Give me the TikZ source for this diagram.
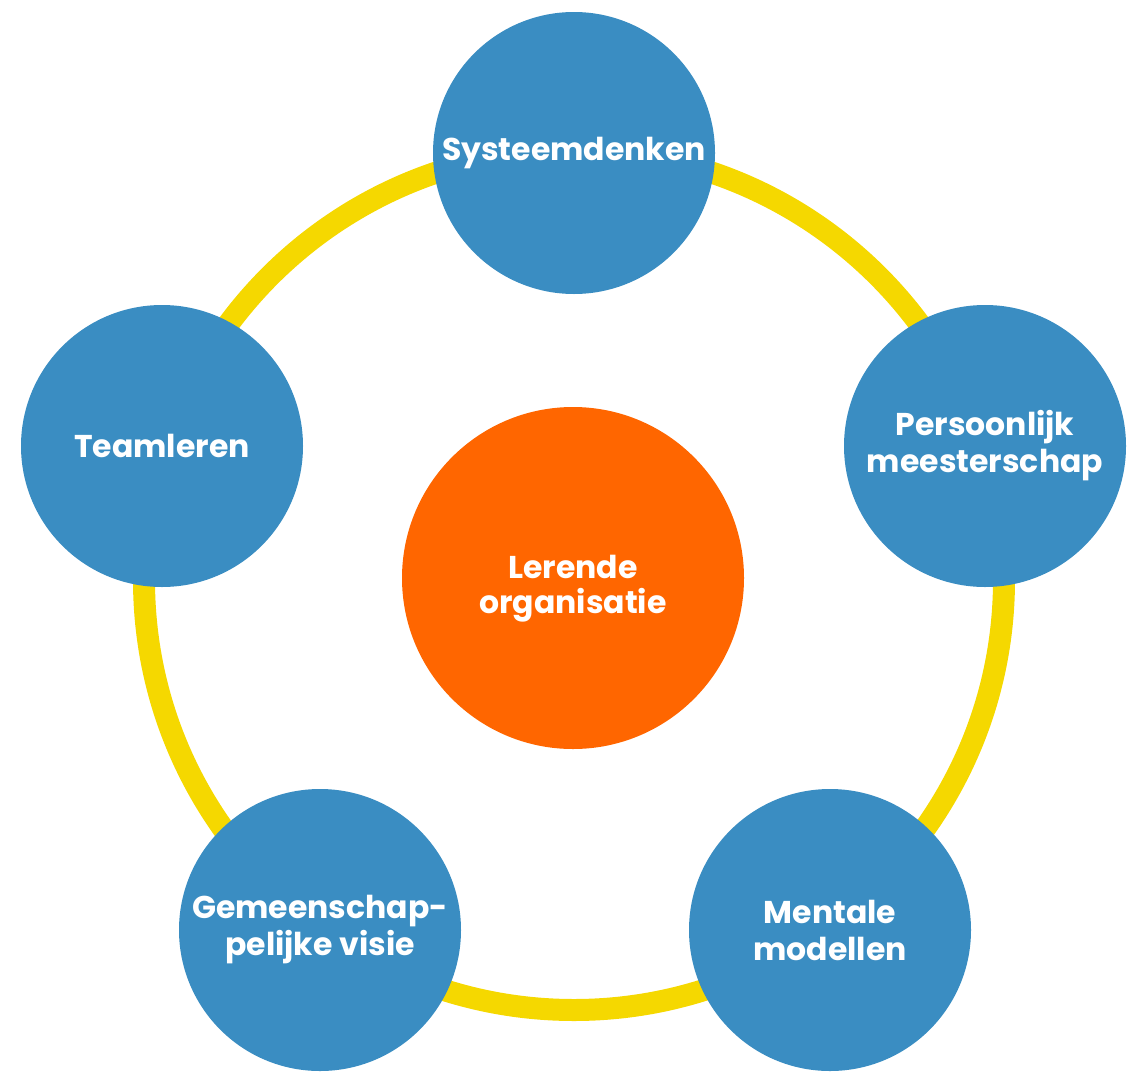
\documentclass[tikz,border=0pt]{standalone}
\usepackage{fontspec}
\setmainfont{Poppins}
\definecolor{ringyellow}{HTML}{F5D800}
\definecolor{nodeblue}{HTML}{3A8DC2}
\definecolor{coreorange}{HTML}{FF6600}
\tikzset{
  pillar/.style={circle, fill=nodeblue, minimum size=282pt, inner sep=0pt, text=white, font=\bfseries\fontsize{31.5}{37}\selectfont, align=center},
  core/.style={circle, fill=coreorange, minimum size=342pt, inner sep=0pt},
  coretext/.style={text=white, font=\bfseries\fontsize{31.5}{35}\selectfont, align=center, inner sep=0pt},
  ring/.style={draw=ringyellow, line width=22pt}
}
\begin{document}
\begin{tikzpicture}[x=1pt,y=-1pt]
\useasboundingbox (0,0) rectangle (1132,1071);
\coordinate (c) at (574,580);
\draw[ring] (c) circle (430pt);
\node[pillar] (sys) at (574,153) {Systeemdenken};
\node[pillar] (per) at (985,446) {Persoonlijk\\meesterschap};
\node[pillar] (men) at (830,930) {Mentale\\modellen};
\node[pillar] (gem) at (320,930) {Gemeenschap-\\pelijke visie};
\node[pillar] (tea) at (162,446) {Teamleren};
\node[core] (ler) at (573,578) {};
\node[coretext] (lertext) at (573,589) {Lerende\\organisatie};
\end{tikzpicture}
\end{document}
